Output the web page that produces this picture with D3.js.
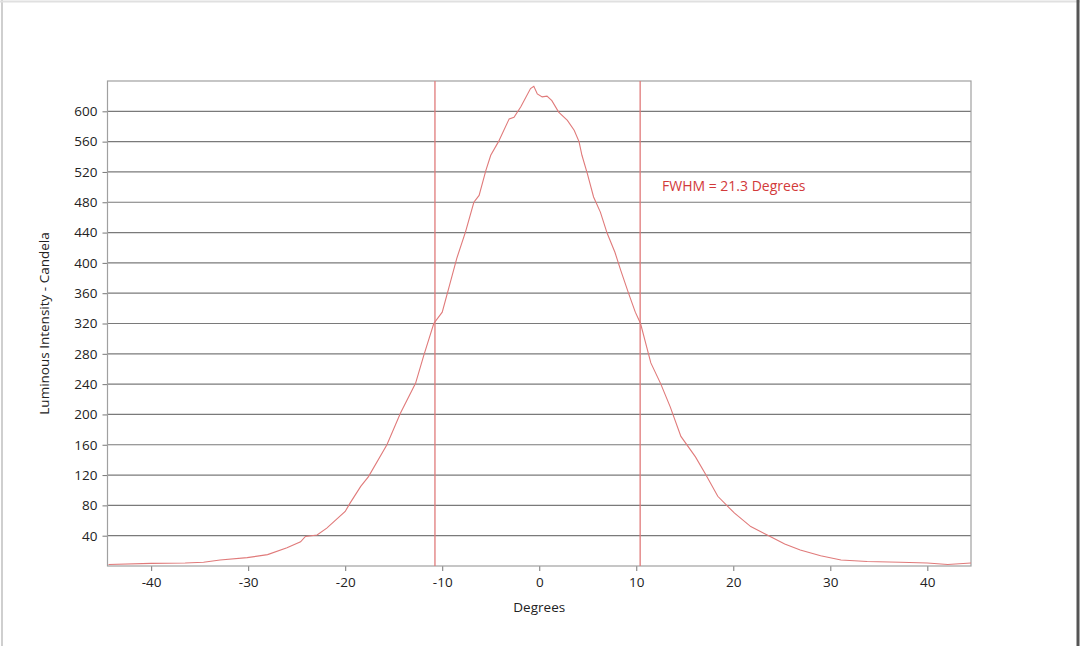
<!DOCTYPE html>
<html><head><meta charset="utf-8">
<script src="https://cdn.jsdelivr.net/npm/d3@7/dist/d3.min.js"></script>
<style>body{margin:0;background:#fff}svg{display:block}</style>
</head><body>
<script>
const degrees = [-44.4,-40,-36.5,-34.6,-32.9,-30.1,-28.0,-26.0,-24.6,-24.1,-22.9,-21.9,-20.0,-19.5,-18.4,-17.6,-15.7,-14.3,-12.75,-11.9,-10.87,-10.0,-9.3,-8.5,-7.6,-6.74,-6.2,-5.5,-5.0,-4.2,-3.1,-2.6,-1.9,-0.9,-0.56,-0.2,0.3,0.8,1.3,2.0,2.9,3.6,4.1,4.4,4.95,5.6,6.3,7.0,7.8,8.4,9.2,9.9,10.44,11.5,12.5,13.5,14.6,16.1,17.1,18.4,20.1,21.8,23.8,25.3,26.9,29.0,31.1,33.8,37.2,40,42.1,44.5];
const candela = [2,3.5,4,5,8,11,15,24,32,39,41,50,72,83,105,118,160,202,241,278,320,335,368,406,441,480,489,522,542,560,590,592,606,630,633,623,619,620,614,599,588,575,560,542,518,487,467,439,414,390,360,335,320,268,241,210,171,144,122,92,70,52,39,29,21,13.6,8,6,5,4,2,4];
const xTicks = [-40,-30,-20,-10,0,10,20,30,40];
const yTicks = [40,80,120,160,200,240,280,320,360,400,440,480,520,560,600];
const fwhmLines = [-10.75, 10.4];
const fwhmLabel = "FWHM = 21.3 Degrees";
const xTitle = "Degrees";
const yTitle = "Luminous Intensity - Candela";

const W = 1080, H = 646;
const m = {left:107.5, right:1080-971, top:81, bottom:646-566};
const svg = d3.select("body").append("svg").attr("width",W).attr("height",H);
const font = "'Open Sans', 'Noto Sans', sans-serif";
const fs = 13.5;

// photo frame edges
svg.append("line").attr("x1",2).attr("x2",2).attr("y1",0).attr("y2",H).attr("stroke","#cfcfcf").attr("stroke-width",2);
svg.append("line").attr("x1",0).attr("x2",W).attr("y1",1.5).attr("y2",1.5).attr("stroke","#e0e0e0").attr("stroke-width",2);
svg.append("line").attr("x1",1078).attr("x2",1078).attr("y1",0).attr("y2",H).attr("stroke","#555").attr("stroke-width",3);

const x = d3.scaleLinear().domain([-44.5,44.5]).range([m.left, W-m.right]);
const y = d3.scaleLinear().domain([0,640]).range([H-m.bottom, m.top]);

// gridlines
svg.append("g").selectAll("line").data(yTicks).join("line")
  .attr("x1",m.left).attr("x2",W-m.right)
  .attr("y1",d=>y(d)).attr("y2",d=>y(d))
  .attr("stroke","#7a7a7a").attr("stroke-width",1.2);

// axes
const yAxis = svg.append("g").attr("transform",`translate(${m.left},0)`)
  .call(d3.axisLeft(y).tickValues(yTicks).tickFormat(d=>String(d)).tickSize(5).tickPadding(5));
const xAxis = svg.append("g").attr("transform",`translate(0,${H-m.bottom})`)
  .call(d3.axisBottom(x).tickValues(xTicks).tickFormat(d=>String(d)).tickSize(5).tickPadding(6));
[yAxis,xAxis].forEach(a=>{
  a.select(".domain").remove();
  a.selectAll(".tick line").attr("stroke","#777");
  a.selectAll("text").attr("font-family",font).attr("font-size",fs).attr("fill","#222");
});

// frame
svg.append("rect").attr("x",m.left).attr("y",m.top)
  .attr("width",W-m.right-m.left).attr("height",H-m.bottom-m.top)
  .attr("fill","none").attr("stroke","#a0a0a0").attr("stroke-width",1.2);

// FWHM lines
svg.append("g").selectAll("line").data(fwhmLines).join("line")
  .attr("x1",d=>x(d)).attr("x2",d=>x(d)).attr("y1",m.top).attr("y2",H-m.bottom)
  .attr("stroke","#e07a7a").attr("stroke-width",1.3);

// curve
const pts = degrees.map((d,i)=>[d,candela[i]]);
svg.append("path").datum(pts)
  .attr("d", d3.line().x(d=>x(d[0])).y(d=>y(d[1])))
  .attr("fill","none").attr("stroke","#e07a7a").attr("stroke-width",1.1);

// annotation
svg.append("text").attr("x",662).attr("y",191).text(fwhmLabel)
  .attr("font-family",font).attr("font-size",14).attr("fill","#d23a3a");

// titles
svg.append("text").attr("x",(m.left+W-m.right)/2).attr("y",612).attr("text-anchor","middle")
  .text(xTitle).attr("font-family",font).attr("font-size",fs).attr("fill","#222");
svg.append("text").attr("transform",`translate(49,${(m.top+H-m.bottom)/2}) rotate(-90)`)
  .attr("text-anchor","middle").text(yTitle)
  .attr("font-family",font).attr("font-size",fs).attr("fill","#222");
</script>
</body></html>
